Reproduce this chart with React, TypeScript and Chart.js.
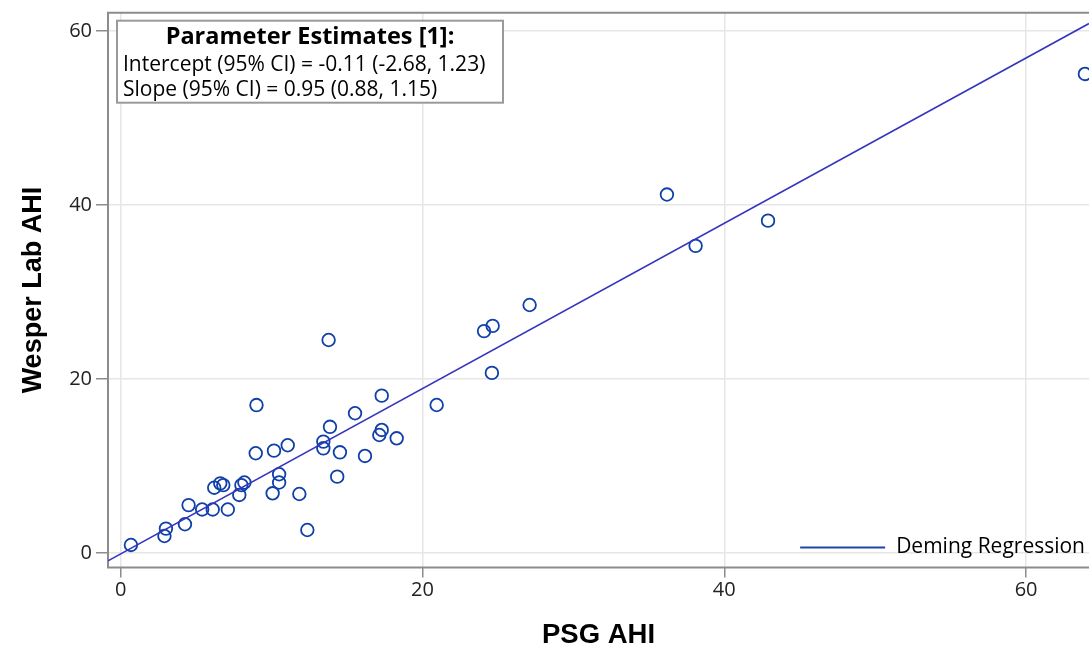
import React, { useEffect, useRef } from "react";
import { Chart, registerables } from "chart.js";

Chart.register(...registerables);

// ---- Data ----
const psgAhi = [
  0.68, 3.0, 2.9, 4.26, 4.5, 5.4, 6.1, 7.1, 6.2, 6.6, 6.8, 7.86, 8.0, 8.2, 8.95, 9.0,
  10.16, 11.07, 10.5, 10.5, 10.07, 11.84, 12.37, 13.78, 13.87, 13.43, 13.43, 14.53,
  14.35, 15.53, 16.19, 17.3, 17.3, 17.14, 18.29, 20.94, 24.08, 24.65, 24.6, 27.1,
  36.2, 38.1, 42.9, 63.9,
];
const wesperAhi = [
  0.92, 2.8, 1.95, 3.3, 5.5, 5.0, 5.0, 5.0, 7.5, 8.0, 7.8, 6.67, 7.8, 8.1, 11.46, 17.0,
  11.76, 12.38, 9.05, 8.1, 6.86, 6.78, 2.64, 24.48, 14.5, 12.8, 12.03, 11.57,
  8.77, 16.06, 11.15, 18.08, 14.14, 13.56, 13.18, 17.01, 25.5, 26.1, 20.7, 28.5,
  41.2, 35.3, 38.2, 55.06,
];
const xTicks = [0, 20, 40, 60];
const yTicks = [0, 20, 40, 60];
const xRange = [-0.84, 64.17];
const yRange = [-1.67, 62.1];
const demingIntercept = -0.11;
const demingSlope = 0.95;
const estimatesTitle = "Parameter Estimates [1]:";
const estimatesLines = [
  "Intercept (95% CI) = -0.11 (-2.68, 1.23)",
  "Slope (95% CI) = 0.95 (0.88, 1.15)",
];
const xTitle = "PSG AHI";
const yTitle = "Wesper Lab AHI";
const lineLabel = "Deming Regression";

const TICK_FONT = '"Open Sans", "DejaVu Sans", sans-serif';
const TITLE_FONT = '"Liberation Sans", Arial, sans-serif';

// Frame on top, left and bottom (the right side is cut off in the reference)
const framePlugin = {
  id: "frame",
  beforeDatasetsDraw(chart: any) {
    const { ctx, chartArea: a } = chart;
    ctx.save();
    ctx.strokeStyle = "#8c8c8c";
    ctx.lineWidth = 2;
    ctx.beginPath();
    ctx.moveTo(a.right + 2, a.top);
    ctx.lineTo(a.left, a.top);
    ctx.lineTo(a.left, a.bottom);
    ctx.lineTo(a.right + 2, a.bottom);
    ctx.stroke();
    ctx.restore();
  },
};

const estimatesPlugin = {
  id: "estimates",
  afterDatasetsDraw(chart: any) {
    const { ctx, chartArea: a } = chart;
    const x = a.left + 9;
    const y = a.top + 8;
    const w = 386;
    const h = 82;
    ctx.save();
    ctx.fillStyle = "#ffffff";
    ctx.fillRect(x, y, w, h);
    ctx.strokeStyle = "#9a9a9a";
    ctx.lineWidth = 2;
    ctx.strokeRect(x, y, w, h);
    ctx.fillStyle = "#000000";
    ctx.textBaseline = "middle";
    ctx.textAlign = "center";
    ctx.font = `bold 23.5px ${TICK_FONT}`;
    ctx.fillText(estimatesTitle, x + w / 2, y + 17);
    ctx.textAlign = "left";
    ctx.font = `21px ${TICK_FONT}`;
    estimatesLines.forEach((t, i) => ctx.fillText(t, x + 6, y + 44 + i * 25));
    ctx.restore();
  },
};

const legendPlugin = {
  id: "innerLegend",
  afterDraw(chart: any) {
    const { ctx, chartArea: a } = chart;
    const ds = chart.data.datasets.find((d: any) => d.label === lineLabel);
    if (!ds) return;
    ctx.save();
    ctx.font = `21px ${TICK_FONT}`;
    ctx.textBaseline = "middle";
    ctx.textAlign = "right";
    const ty = a.bottom - 20;
    const tx = a.right - 4;
    const tw = ctx.measureText(ds.label).width;
    ctx.fillStyle = "#000";
    ctx.fillText(ds.label, tx, ty);
    ctx.strokeStyle = "#1f45a8";
    ctx.lineWidth = 2;
    ctx.beginPath();
    ctx.moveTo(tx - tw - 11, ty);
    ctx.lineTo(tx - tw - 96, ty);
    ctx.stroke();
    ctx.restore();
  },
};

export default function App() {
  const ref = useRef<HTMLCanvasElement | null>(null);

  useEffect(() => {
    if (!ref.current) return;
    const points = psgAhi.map((x, i) => ({ x, y: wesperAhi[i] }));
    const linePts = xRange.map((x) => ({ x, y: demingIntercept + demingSlope * x }));

    const chart = new Chart(ref.current, {
      type: "scatter",
      data: {
        datasets: [
          {
            type: "line",
            label: lineLabel,
            data: linePts,
            borderColor: "#3535bd",
            borderWidth: 1.6,
            pointRadius: 0,
            fill: false,
          } as any,
          {
            label: "Observations",
            data: points,
            pointStyle: "circle",
            pointRadius: 6.3,
            pointBorderWidth: 1.8,
            borderColor: "#1040a8",
            pointBorderColor: "#1040a8",
            backgroundColor: "rgba(0,0,0,0)",
            pointBackgroundColor: "rgba(0,0,0,0)",
          },
        ],
      },
      options: {
        animation: false,
        responsive: false,
        layout: { autoPadding: false, padding: { top: 12.7, right: 0, bottom: 0, left: 0 } },
        plugins: {
          legend: { display: false },
          tooltip: { enabled: false },
        },
        scales: {
          x: {
            type: "linear",
            min: xRange[0],
            max: xRange[1],
            afterBuildTicks: (s: any) => {
              s.ticks = xTicks.map((v) => ({ value: v }));
            },
            afterFit: (s: any) => {
              s.height = 81.5;
              s.paddingLeft = 0;
              s.paddingRight = 0;
            },
            grid: {
              color: "#e6e6e6",
              lineWidth: 1.5,
              tickColor: "#8c8c8c",
              tickLength: 10,
            },
            border: { display: false },
            ticks: {
              color: "#222",
              padding: 1,
              font: { size: 20, family: TICK_FONT },
              callback: (v: any) => String(v),
            },
            title: {
              display: true,
              text: xTitle,
              color: "#000",
              font: { size: 27.5, weight: "bold", family: TITLE_FONT, lineHeight: 1 },
              padding: { top: 0, bottom: 0 },
            },
          },
          y: {
            type: "linear",
            min: yRange[0],
            max: yRange[1],
            afterBuildTicks: (s: any) => {
              s.ticks = yTicks.map((v) => ({ value: v }));
            },
            afterFit: (s: any) => {
              s.width = 108;
              s.paddingTop = 0;
              s.paddingBottom = 0;
            },
            grid: {
              color: "#e6e6e6",
              lineWidth: 1.5,
              tickColor: "#8c8c8c",
              tickLength: 12,
            },
            border: { display: false },
            ticks: {
              color: "#222",
              padding: 4,
              font: { size: 20, family: TICK_FONT },
              callback: (v: any) => String(v),
            },
            title: {
              display: true,
              text: yTitle,
              color: "#000",
              font: { size: 27, weight: "bold", family: TITLE_FONT, lineHeight: 1 },
              padding: { top: 20, bottom: 0 },
            },
          },
        },
      },
      plugins: [framePlugin, estimatesPlugin, legendPlugin],
    });
    return () => chart.destroy();
  }, []);

  return (
    <div style={{ position: "absolute", left: 0, top: 0, width: 1089, height: 649, background: "#fff" }}>
      <canvas ref={ref} width={1089} height={649} style={{ display: "block" }} />
    </div>
  );
}
